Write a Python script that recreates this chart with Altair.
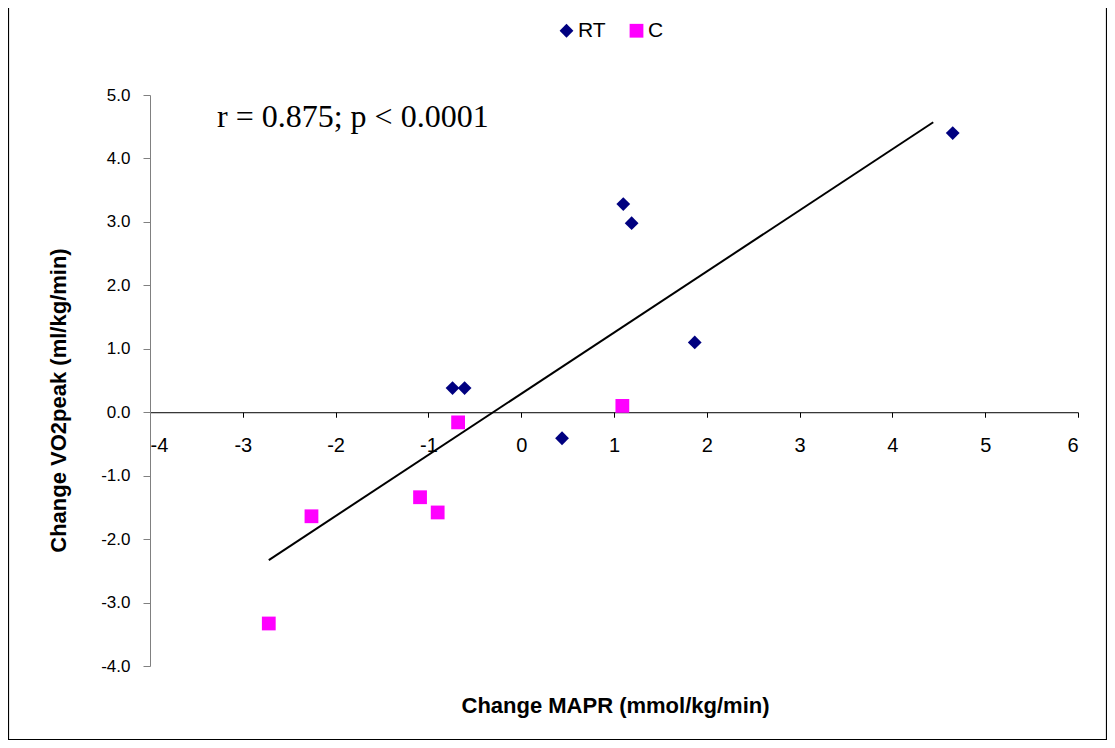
import altair as alt
import pandas as pd

# ---- data ----
rt_x = [4.65, 1.10, 1.19, 1.87, -0.74, -0.61, 0.44]
rt_y = [4.40, 3.28, 2.98, 1.10, 0.38, 0.38, -0.41]
c_x = [1.09, -0.68, -1.09, -0.90, -2.26, -2.72]
c_y = [0.10, -0.16, -1.34, -1.58, -1.64, -3.33]
trend_x = [-2.72, 4.44]
trend_y = [-2.33, 4.57]
groups = ["RT", "C"]
colors = ["#000080", "#FF00FF"]
shapes = ["diamond", "square"]
x_ticks = [-4, -3, -2, -1, 0, 1, 2, 3, 4, 5, 6]
y_ticks = [5, 4, 3, 2, 1, 0, -1, -2, -3, -4]
annotation = "r = 0.875; p < 0.0001"
x_title = "Change MAPR (mmol/kg/min)"
y_title = "Change VO2peak (ml/kg/min)"

pts = pd.DataFrame({
    "x": rt_x + c_x,
    "y": rt_y + c_y,
    "g": ["RT"] * len(rt_x) + ["C"] * len(c_x),
})
trend = pd.DataFrame({"x": trend_x, "y": trend_y})

W, H = 928, 571
xs = alt.Scale(domain=[-4, 6], nice=False, zero=False)
ys = alt.Scale(domain=[-4, 5], nice=False, zero=False)

x_axis = alt.Axis(
    values=x_ticks, orient="bottom", offset=-(H * 4 / 9), grid=False,
    labelExpr="datum.value < 0 ? '-' + format(-datum.value, 'd') : format(datum.value, 'd')",
    domainColor="#000000", tickColor="#000000", tickSize=5, labelPadding=18,
    labelFont="Liberation Sans", labelFontSize=20, labelColor="#000000",
    title=x_title, titleFont="Liberation Sans", titleFontSize=22, titleFontWeight="bold",
    titleColor="#000000", titleX=465, titleY=293, titleBaseline="middle",
)
y_axis = alt.Axis(
    values=y_ticks, grid=False,
    labelExpr="datum.value < 0 ? '-' + format(-datum.value, '.1f') : format(datum.value, '.1f')",
    domainColor="#808080", tickColor="#808080", tickSize=7, labelPadding=13,
    labelFont="Liberation Sans", labelFontSize=17, labelColor="#000000",
    title=y_title, titleFont="Liberation Sans", titleFontSize=22, titleFontWeight="bold",
    titleColor="#000000", titleX=-92, titleY=305, titleBaseline="middle",
)

legend = alt.Legend(title=None, orient="none", legendX=406, legendY=-75,
                    direction="horizontal")

points = alt.Chart(pts).mark_point(filled=True, opacity=1, size=190).encode(
    x=alt.X("x:Q", scale=xs, axis=x_axis),
    y=alt.Y("y:Q", scale=ys, axis=y_axis),
    color=alt.Color("g:N", scale=alt.Scale(domain=groups, range=colors), legend=legend),
    shape=alt.Shape("g:N", scale=alt.Scale(domain=groups, range=shapes), legend=legend),
)

line = alt.Chart(trend).mark_line(color="#000000", strokeWidth=2).encode(
    x=alt.X("x:Q", scale=xs, axis=x_axis), y=alt.Y("y:Q", scale=ys, axis=y_axis)
)

one = pd.DataFrame({"t": [annotation]})
label = alt.Chart(one).mark_text(
    align="left", baseline="middle", font="Liberation Serif", fontSize=32, color="#000000"
).encode(x=alt.value(67), y=alt.value(22), text="t:N")

border = alt.Chart(one).mark_rect(fill=None, stroke="#000000", strokeWidth=1.2).encode(
    x=alt.value(-141.5), x2=alt.value(W + 28.5), y=alt.value(-87.5), y2=alt.value(H + 73.5)
)

chart = alt.layer(border, line, points, label).properties(
    width=W, height=H,
    autosize=alt.AutoSizeParams(type="none"),
    padding={"left": 142, "top": 87, "right": 29, "bottom": 74},
    background="#ffffff",
).configure_view(stroke=None).configure_legend(
    labelFont="Liberation Sans", labelFontSize=21, labelColor="#000000", labelOffset=1,
    symbolSize=190, columnPadding=20, symbolOpacity=1,
)

chart.save("out.html", embed_options={"renderer": "svg", "actions": False})
